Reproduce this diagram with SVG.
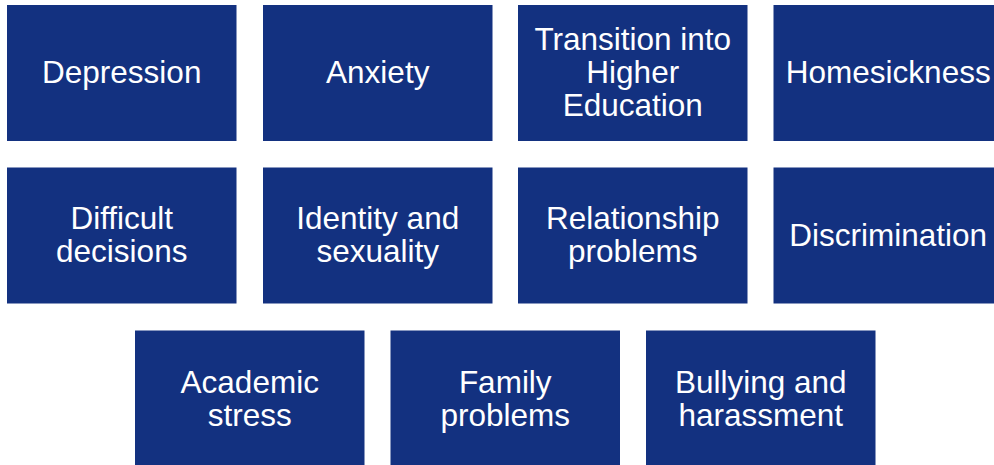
<svg xmlns="http://www.w3.org/2000/svg" width="994" height="465" viewBox="0 0 994 465">
<style>
.box{fill:#133180;}
.t{fill:#ffffff;font-family:"Liberation Sans",Arial,sans-serif;font-size:31.5px;text-anchor:middle;}
</style>
<rect x="0" y="0" width="994" height="465" fill="#ffffff"/>
<g id="depression"><rect class="box" x="7" y="5" width="229.5" height="136"/><text class="t" x="121.75" y="83">Depression</text></g>
<g id="anxiety"><rect class="box" x="263" y="5" width="229.5" height="136"/><text class="t" x="377.75" y="83">Anxiety</text></g>
<g id="transition"><rect class="box" x="518" y="5" width="229.5" height="136"/><text class="t" x="632.75" y="49.5">Transition into</text><text class="t" x="632.75" y="82.5">Higher</text><text class="t" x="632.75" y="115.5">Education</text></g>
<g id="homesickness"><rect class="box" x="773.5" y="5" width="229.5" height="136"/><text class="t" x="888.25" y="83">Homesickness</text></g>
<g id="difficult"><rect class="box" x="7" y="167.5" width="229.5" height="136"/><text class="t" x="121.75" y="229">Difficult</text><text class="t" x="121.75" y="262">decisions</text></g>
<g id="identity"><rect class="box" x="263" y="167.5" width="229.5" height="136"/><text class="t" x="377.75" y="229">Identity and</text><text class="t" x="377.75" y="262">sexuality</text></g>
<g id="relationship"><rect class="box" x="518" y="167.5" width="229.5" height="136"/><text class="t" x="632.75" y="229">Relationship</text><text class="t" x="632.75" y="262">problems</text></g>
<g id="discrimination"><rect class="box" x="773.5" y="167.5" width="229.5" height="136"/><text class="t" x="888.25" y="245.5">Discrimination</text></g>
<g id="academic"><rect class="box" x="135" y="330.5" width="229.5" height="136"/><text class="t" x="249.75" y="392.5">Academic</text><text class="t" x="249.75" y="425.5">stress</text></g>
<g id="family"><rect class="box" x="390.5" y="330.5" width="229.5" height="136"/><text class="t" x="505.25" y="392.5">Family</text><text class="t" x="505.25" y="425.5">problems</text></g>
<g id="bullying"><rect class="box" x="646" y="330.5" width="229.5" height="136"/><text class="t" x="760.75" y="392.5">Bullying and</text><text class="t" x="760.75" y="425.5">harassment</text></g>
<g id="connectors"></g>
</svg>
